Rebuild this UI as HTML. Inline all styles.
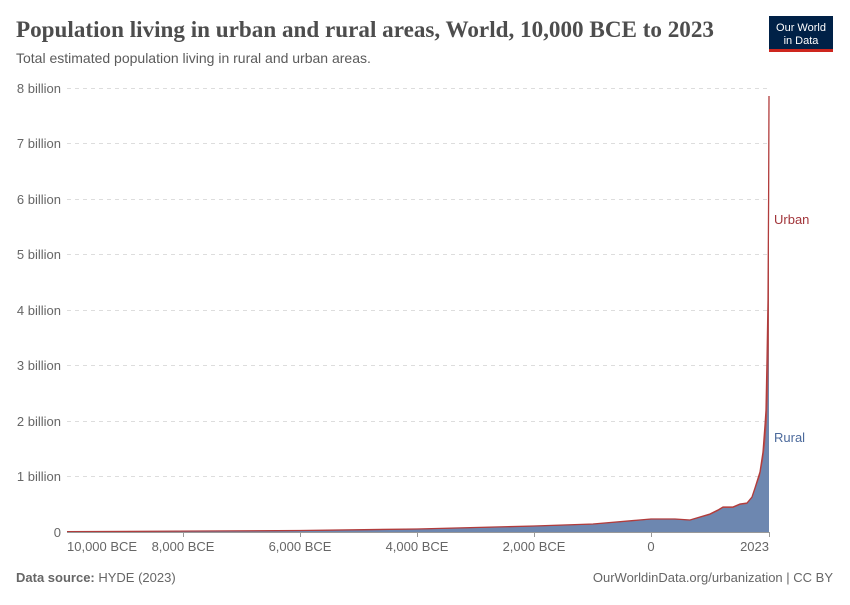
<!DOCTYPE html>
<html><head><meta charset="utf-8"><style>
body{margin:0;background:#fff;width:850px;height:600px;overflow:hidden;font-family:"Liberation Sans",sans-serif}
</style></head><body>
<svg width="850" height="600" xmlns="http://www.w3.org/2000/svg" font-family="Liberation Sans, sans-serif">
<text x="16" y="37" font-family="Liberation Serif, serif" font-size="23" fill="#4d4d4d" font-weight="bold" textLength="698" lengthAdjust="spacingAndGlyphs">Population living in urban and rural areas, World, 10,000 BCE to 2023</text>
<text x="16" y="63" font-size="14" fill="#5b5b5b">Total estimated population living in rural and urban areas.</text>
<rect x="769" y="16" width="64" height="34" fill="#002147"/>
<rect x="769" y="49" width="64" height="3" fill="#ce261e"/>
<text x="801" y="31" font-size="11" fill="#fff" text-anchor="middle">Our World</text>
<text x="801" y="44" font-size="11" fill="#fff" text-anchor="middle">in Data</text>
<g stroke="#dddddd" stroke-dasharray="4,4" stroke-width="1">
<line x1="67" x2="769" y1="88.5" y2="88.5"/><line x1="67" x2="769" y1="143.5" y2="143.5"/><line x1="67" x2="769" y1="199.5" y2="199.5"/><line x1="67" x2="769" y1="254.5" y2="254.5"/><line x1="67" x2="769" y1="310.5" y2="310.5"/><line x1="67" x2="769" y1="365.5" y2="365.5"/><line x1="67" x2="769" y1="421.5" y2="421.5"/><line x1="67" x2="769" y1="476.5" y2="476.5"/>
</g>
<g font-size="13" fill="#666" text-anchor="end">
<text x="61" y="93">8 billion</text><text x="61" y="148">7 billion</text><text x="61" y="204">6 billion</text><text x="61" y="259">5 billion</text><text x="61" y="315">4 billion</text><text x="61" y="370">3 billion</text><text x="61" y="426">2 billion</text><text x="61" y="481">1 billion</text><text x="61" y="537">0</text>
</g>
<path d="M67,532 L67,531.7 L300,530.5 L417,529 L534,526 L593,524 L651,519 L675,519 L690,520 L710,514 L718,510 L723,507 L733,507 L740,504 L747,503 L752,497 L755,488 L760,472 L763,452 L765,425 L766,410 L767,360 L768,300 L768.6,200 L769,96 L769,532 Z" fill="#b35454"/>
<path d="M67,532 L67,532 L300,531 L417,529.5 L534,526.5 L593,524.5 L651,519.5 L675,519.5 L690,520.5 L710,515 L718,511 L723,508 L733,508 L740,505 L747,504 L752,498 L755,490 L760,476 L763,460 L765,445 L767,420 L768,395 L769,343 L769,532 Z" fill="#6d87b0"/>
<path d="M67,531.7 L300,530.5 L417,529 L534,526 L593,524 L651,519 L675,519 L690,520 L710,514 L718,510 L723,507 L733,507 L740,504 L747,503 L752,497 L755,488 L760,472 L763,452 L765,425 L766,410 L767,360 L768,300 L768.6,200 L769,96" fill="none" stroke="#b13c3c" stroke-width="1.3"/>
<line x1="67" x2="769" y1="532.5" y2="532.5" stroke="#999"/>
<g stroke="#999"><line x1="183.5" x2="183.5" y1="532" y2="537"/><line x1="300.5" x2="300.5" y1="532" y2="537"/><line x1="417.5" x2="417.5" y1="532" y2="537"/><line x1="534.5" x2="534.5" y1="532" y2="537"/><line x1="651.5" x2="651.5" y1="532" y2="537"/><line x1="769.5" x2="769.5" y1="532" y2="537"/></g>
<g font-size="13" fill="#666" text-anchor="middle">
<text x="67" y="551" text-anchor="start">10,000 BCE</text><text x="183" y="551">8,000 BCE</text><text x="300" y="551">6,000 BCE</text><text x="417" y="551">4,000 BCE</text><text x="534" y="551">2,000 BCE</text><text x="651" y="551">0</text><text x="769" y="551" text-anchor="end">2023</text>
</g>
<text x="774" y="224" font-size="13" fill="#a2363b">Urban</text>
<text x="774" y="442" font-size="13" fill="#4c6a9c">Rural</text>
<text x="16" y="582" font-size="13" fill="#666"><tspan font-weight="bold">Data source:</tspan> HYDE (2023)</text>
<text x="833" y="582" font-size="13" fill="#666" text-anchor="end">OurWorldinData.org/urbanization | CC BY</text>
</svg>
</body></html>
